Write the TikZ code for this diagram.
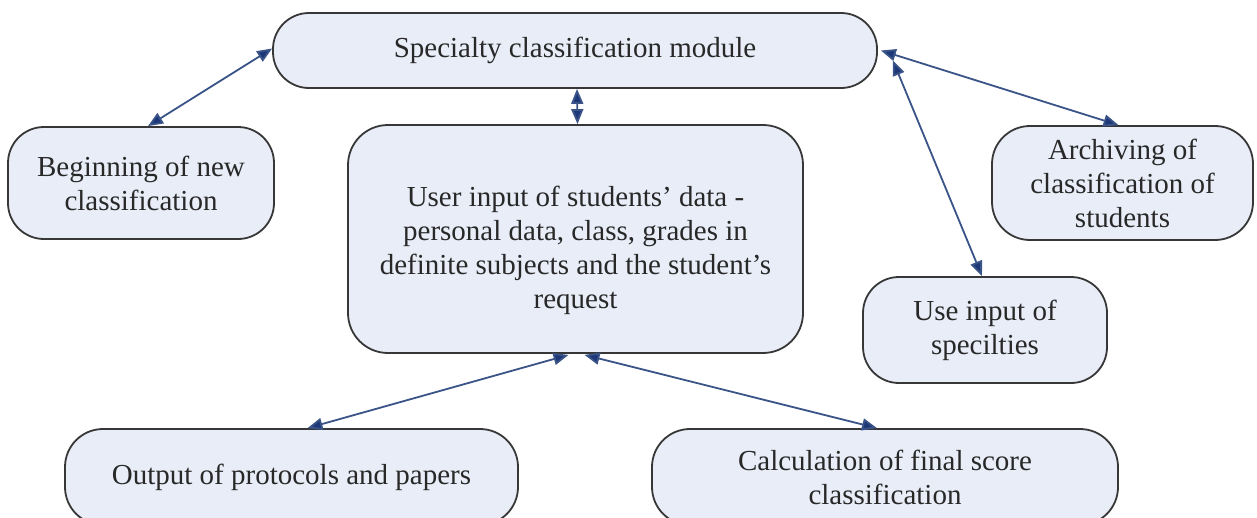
\documentclass[tikz,border=0pt]{standalone}
\usepackage{fontspec}
\setmainfont{Liberation Serif}
\usetikzlibrary{arrows.meta}
\definecolor{boxfill}{RGB}{232,237,248}
\definecolor{boxline}{RGB}{55,55,55}
\definecolor{linkline}{RGB}{58,84,136}
\definecolor{linkhead}{RGB}{28,56,120}
\definecolor{txt}{RGB}{40,40,40}
\tikzset{
  pill/.style={draw=boxline, line width=1.8pt, fill=boxfill, align=center,
    text=txt, inner sep=0pt, font=\fontsize{29}{34}\selectfont},
  link/.style={draw=linkline, line width=1.8pt,
    {Triangle[length=15pt,width=12pt,fill=linkhead]}-{Triangle[length=15pt,width=12pt,fill=linkhead]}}
}
\begin{document}
\begin{tikzpicture}[x=1pt,y=-1pt]
\useasboundingbox (0,0) rectangle (1257,517);
\fill[white] (0,0) rectangle (1257,517);

% modules
\node[pill, minimum width=604pt, minimum height=75pt, rounded corners=36pt]
  (top) at (575,50.5) {\raisebox{-3pt}{Specialty classification module}};
\node[pill, minimum width=266pt, minimum height=112pt, rounded corners=36pt]
  (begin) at (141,183) {Beginning of new\\classification};
\node[pill, minimum width=455pt, minimum height=228pt, rounded corners=40pt]
  (user) at (575.5,239) {\rule{0pt}{44pt}User input of students’ data -\\personal data, class, grades in\\definite subjects and the student’s\\request};
\node[pill, minimum width=261pt, minimum height=114pt, rounded corners=38pt]
  (archive) at (1122.5,183) {Archiving of\\classification of\\students};
\node[pill, minimum width=244pt, minimum height=106pt, rounded corners=36pt]
  (useinput) at (985,330) {Use input of\\specilties};
\node[pill, minimum width=453pt, minimum height=96pt, rounded corners=38pt]
  (output) at (291.5,477) {Output of protocols and papers};
\node[pill, minimum width=466pt, minimum height=96pt, rounded corners=38pt]
  (calc) at (885,477) {Calculation of final score\\classification};

% links
\draw[link] ([xshift=7pt]begin.north) -- ([yshift=2pt]top.west);
\draw[link] ([xshift=2pt]top.south) -- ([xshift=2pt]user.north);
\draw[link] ([xshift=3pt]top.east) -- ([xshift=-4pt]archive.north);
\coordinate (tr) at ([xshift=15pt,yshift=-10pt]top.east);
\draw[link] (tr) -- ([xshift=-3pt]useinput.north);
\draw[link] ([xshift=-7pt,yshift=-1pt]user.south) -- ([xshift=16pt]output.north);
\draw[link] ([xshift=9pt,yshift=-1pt]user.south) -- ([xshift=-8pt]calc.north);
\end{tikzpicture}
\end{document}
